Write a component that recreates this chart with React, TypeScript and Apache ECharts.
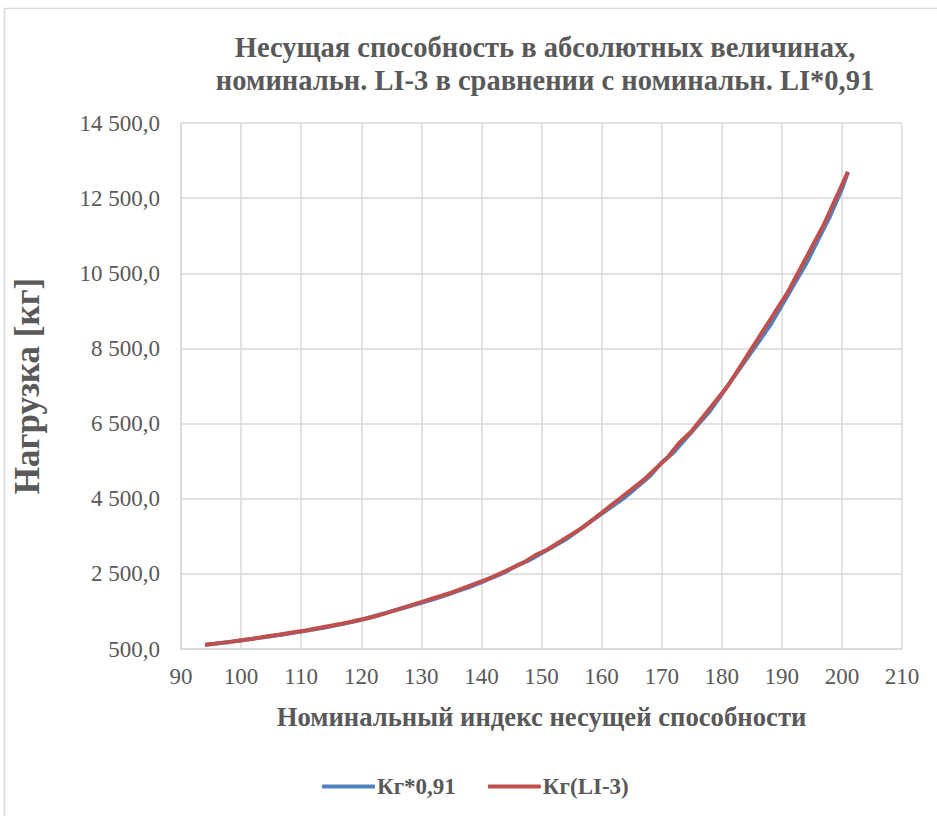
import React, { useEffect, useRef } from "react";
import * as echarts from "echarts";

const loadIndex = [
  94, 95, 96, 97, 98, 99, 100, 101, 102, 103, 104, 105, 106, 107, 108, 109, 110,
  111, 112, 113, 114, 115, 116, 117, 118, 119, 120, 121, 122, 123, 124, 125, 126,
  127, 128, 129, 130, 131, 132, 133, 134, 135, 136, 137, 138, 139, 140, 141, 142,
  143, 144, 145, 146, 147, 148, 149, 150, 151, 152, 153, 154, 155, 156, 157, 158,
  159, 160, 161, 162, 163, 164, 165, 166, 167, 168, 169, 170, 171, 172, 173, 174,
  175, 176, 177, 178, 179, 180, 181, 182, 183, 184, 185, 186, 187, 188, 189, 190,
  191, 192, 193, 194, 195, 196, 197, 198, 199, 200, 201,
];

const kgTimes091 = [
  609.7, 627.9, 646.1, 664.3, 682.5, 705.25, 728, 750.75, 773.5, 796.25, 819,
  841.75, 864.5, 887.25, 910, 937.3, 964.6, 991.9, 1019.2, 1046.5, 1073.8,
  1105.65, 1137.5, 1169.35, 1201.2, 1237.6, 1274, 1319.5, 1365, 1410.5, 1456,
  1501.5, 1547, 1592.5, 1638, 1683.5, 1729, 1774.5, 1820, 1874.6, 1929.2, 1983.8,
  2038.4, 2093, 2147.6, 2211.3, 2275, 2343.25, 2411.5, 2479.75, 2548, 2639, 2730,
  2798.25, 2866.5, 2957.5, 3048.5, 3139.5, 3230.5, 3321.5, 3412.5, 3526.25, 3640,
  3753.75, 3867.5, 3981.25, 4095, 4208.75, 4322.5, 4436.25, 4550, 4686.5, 4823,
  4959.5, 5096, 5278, 5460, 5596.5, 5733, 5915, 6097, 6279, 6461, 6643, 6825,
  7052.5, 7280, 7507.5, 7735, 7962.5, 8190, 8417.5, 8645, 8872.5, 9100, 9373,
  9646, 9919, 10192, 10465, 10738, 11056.5, 11375, 11693.5, 12012, 12376, 12740,
  13195,
];

const kgLiMinus3 = [
  615, 630, 650, 670, 690, 710, 730, 750, 775, 800, 825, 850, 875, 900, 925, 950,
  975, 1000, 1030, 1060, 1090, 1120, 1150, 1180, 1215, 1250, 1285, 1320, 1360,
  1400, 1450, 1500, 1550, 1600, 1650, 1700, 1750, 1800, 1850, 1900, 1950, 2000,
  2060, 2120, 2180, 2240, 2300, 2360, 2430, 2500, 2575, 2650, 2725, 2800, 2900,
  3000, 3075, 3150, 3250, 3350, 3450, 3550, 3650, 3750, 3875, 4000, 4125, 4250,
  4375, 4500, 4625, 4750, 4875, 5000, 5150, 5300, 5450, 5600, 5800, 6000, 6150,
  6300, 6500, 6700, 6900, 7100, 7300, 7500, 7750, 8000, 8250, 8500, 8750, 9000,
  9250, 9500, 9750, 10000, 10300, 10600, 10900, 11200, 11500, 11800, 12150, 12500,
  12850, 13200,
];

const seriesNames = ["Кг*0,91", "Кг(LI-3)"];
const titleLines = [
  "Несущая способность в абсолютных величинах,",
  "номинальн. LI-3 в сравнении с номинальн. LI*0,91",
];
const xAxisTitle = "Номинальный индекс несущей способности";
const yAxisTitle = "Нагрузка [кг]";

const FONT = "Liberation Serif";
const TEXT = "#595959";
const GRID = "#D9D9D9";

function fmtY(v: number): string {
  const s = Math.round(v).toString();
  const withSpace = s.replace(/\B(?=(\d{3})+(?!\d))/g, " ");
  return withSpace + ",0";
}

export default function App() {
  const ref = useRef<HTMLDivElement>(null);
  useEffect(() => {
    if (!ref.current) return;
    const chart = echarts.init(ref.current, null, { renderer: "svg" });
    const blue = loadIndex.map((x, i) => [x, kgTimes091[i]]);
    const red = loadIndex.map((x, i) => [x, kgLiMinus3[i]]);
    chart.setOption({
      animation: false,
      backgroundColor: "#ffffff",
      title: {
        text: titleLines.join("\n"),
        left: 540,
        textAlign: "center",
        top: 26,
        padding: 5,
        textStyle: {
          fontFamily: FONT,
          fontSize: 28.5,
          fontWeight: "bold",
          color: TEXT,
          lineHeight: 33,
        },
      },
      graphic: [
        {
          type: "rect",
          shape: { x: 4.5, y: 8.5, width: 1000, height: 1000 },
          style: { fill: "none", stroke: GRID, lineWidth: 1.5 },
          silent: true,
        },
      ],
      legend: {
        left: 317,
        top: 770,
        icon: "roundRect",
        itemWidth: 53,
        itemHeight: 4,
        itemGap: 32,
        textStyle: {
          fontFamily: FONT,
          fontSize: 23,
          fontWeight: "bold",
          color: TEXT,
          padding: [0, 0, 0, -3],
        },
        data: seriesNames,
      },
      grid: {
        left: 181,
        right: 35,
        top: 123,
        bottom: 167,
        containLabel: false,
      },
      xAxis: {
        type: "value",
        min: 90,
        max: 210,
        interval: 10,
        name: xAxisTitle,
        nameLocation: "middle",
        nameGap: 54,
        nameTextStyle: {
          fontFamily: FONT,
          fontSize: 26.7,
          fontWeight: "bold",
          color: TEXT,
        },
        axisLine: { show: true, lineStyle: { color: GRID, width: 1.5 } },
        axisTick: { show: false },
        splitLine: { show: true, lineStyle: { color: GRID, width: 1.5 } },
        axisLabel: {
          fontFamily: FONT,
          fontSize: 23,
          color: TEXT,
          margin: 16,
        },
      },
      yAxis: {
        type: "value",
        min: 500,
        max: 14500,
        interval: 2000,
        name: yAxisTitle,
        nameLocation: "middle",
        nameGap: 136,
        nameTextStyle: {
          fontFamily: FONT,
          fontSize: 35,
          fontWeight: "bold",
          color: TEXT,
        },
        axisLine: { show: true, lineStyle: { color: GRID, width: 1.5 } },
        axisTick: { show: false },
        splitLine: { show: true, lineStyle: { color: GRID, width: 1.5 } },
        axisLabel: {
          fontFamily: FONT,
          fontSize: 23,
          color: TEXT,
          margin: 21,
          formatter: (v: number) => fmtY(v),
        },
      },
      series: [
        {
          name: seriesNames[0],
          type: "line",
          data: blue,
          showSymbol: false,
          symbol: "none",
          lineStyle: { color: "#4F81BD", width: 4 },
          itemStyle: { color: "#4F81BD" },
        },
        {
          name: seriesNames[1],
          type: "line",
          data: red,
          showSymbol: false,
          symbol: "none",
          lineStyle: { color: "#C0504D", width: 4 },
          itemStyle: { color: "#C0504D" },
        },
      ],
    });
    return () => chart.dispose();
  }, []);
  return (
    <div
      ref={ref}
      style={{ position: "absolute", left: 0, top: 0, width: 937, height: 816 }}
    />
  );
}
